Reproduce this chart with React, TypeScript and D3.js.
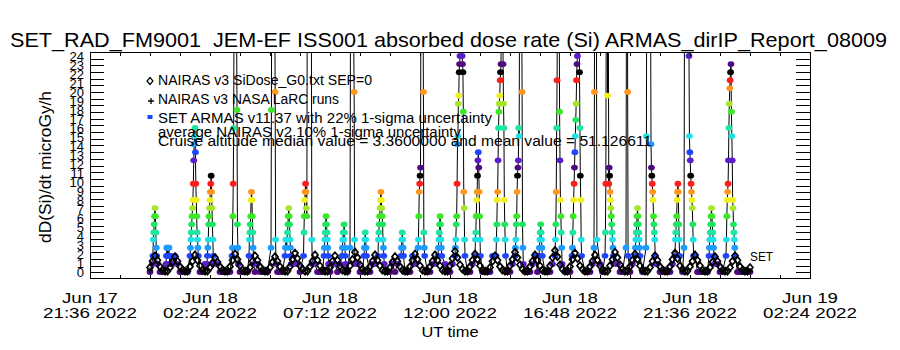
import React, { useEffect, useRef } from "react";
import * as d3 from "d3";

// chart text
const title =
  "SET_RAD_FM9001  JEM-EF ISS001 absorbed dose rate (Si) ARMAS_dirIP_Report_08009";
const yTitle = "dD(Si)/dt microGy/h";
const xTitle = "UT time";
const legendLabels = [
  "NAIRAS v3 SiDose_G0.txt SEP=0",
  "NAIRAS v3 NASA LaRC runs",
  "SET ARMAS v11.37 with 22% 1-sigma uncertainty",
  "average NAIRAS v2 10% 1-sigma uncertainty",
  "Cruise altitude median value = 3.3600000 and mean value = 51.126611",
];
const setLabel = "SET";

// hours relative to 2022-06-18 00:00 UT
const xTickHours = [-2.4, 2.4, 7.2, 12, 16.8, 21.6, 26.4];
const yTickValues = [
  0, 1, 2, 3, 4, 5, 6, 7, 8, 9, 10, 11, 12, 13, 14, 15, 16, 17, 18, 19, 20, 21,
  22, 23, 24,
];

// NAIRAS v3 SiDose, one value every 6 minutes from 00:00 to 24:00 UT
const nairasStep = 0.1;
const nairasDose = [
  0.5, 1.2, 1.8, 1.3, 0.6, 0.2, 0.1, 0.1,
  0.5, 1.1, 1.7, 1.2, 0.6, 0.2, 0.1, 0.1,
  0.6, 1.2, 1.9, 1.3, 0.7, 0.2, 0.1, 0.1,
  0.5, 1.0, 1.6, 1.1, 0.6, 0.2, 0.1, 0.1,
  0.6, 1.3, 2.0, 1.4, 0.7, 0.2, 0.1, 0.1,
  0.5, 1.2, 1.8, 1.3, 0.6, 0.2, 0.1, 0.1,
  0.5, 1.1, 1.7, 1.2, 0.6, 0.2, 0.1, 0.1,
  0.6, 1.4, 2.1, 1.5, 0.7, 0.3, 0.1, 0.1,
  0.6, 1.2, 1.9, 1.3, 0.7, 0.2, 0.1, 0.1,
  0.5, 1.2, 1.8, 1.3, 0.6, 0.2, 0.1, 0.1,
  0.7, 1.4, 2.2, 1.6, 0.8, 0.3, 0.1, 0.1,
  0.6, 1.2, 1.9, 1.3, 0.7, 0.2, 0.1, 0.1,
  0.5, 1.1, 1.7, 1.2, 0.6, 0.2, 0.1, 0.1,
  0.6, 1.3, 2.0, 1.4, 0.7, 0.2, 0.1, 0.1,
  0.6, 1.2, 1.9, 1.3, 0.7, 0.2, 0.1, 0.1,
  0.7, 1.5, 2.3, 1.6, 0.8, 0.3, 0.1, 0.1,
  0.6, 1.3, 2.0, 1.4, 0.7, 0.2, 0.1, 0.1,
  0.5, 1.2, 1.8, 1.3, 0.6, 0.2, 0.1, 0.1,
  0.7, 1.4, 2.2, 1.6, 0.8, 0.3, 0.1, 0.1,
  0.6, 1.2, 1.9, 1.3, 0.7, 0.2, 0.1, 0.1,
  0.7, 1.6, 2.4, 1.7, 0.8, 0.3, 0.1, 0.1,
  0.6, 1.4, 2.1, 1.5, 0.7, 0.3, 0.1, 0.1,
  0.6, 1.2, 1.9, 1.3, 0.7, 0.2, 0.1, 0.1,
  0.7, 1.4, 2.2, 1.6, 0.8, 0.3, 0.1, 0.1,
  0.6, 1.3, 2.0, 1.4, 0.7, 0.2, 0.1, 0.1,
  0.5, 1.2, 1.8, 1.3, 0.6, 0.2, 0.1, 0.1,
  0.6, 1.4, 2.1, 1.5, 0.7, 0.3, 0.1, 0.1,
  0.6, 1.2, 1.9, 1.3, 0.7, 0.2, 0.1, 0.1,
  0.5, 1.1, 1.7, 1.2, 0.6, 0.2, 0.1, 0.1,
  0.5, 1.2, 1.8, 1.3, 0.6, 0.2, 0.1, 0.1,
  0.5,
];

// NASA LaRC runs (hours, value)
const larcHours = [0, 24];
const larcDose = [0.2, 0.1];

// SET ARMAS quiet background, one value every 6 minutes
const armasBgStep = 0.1;
const armasBackground = [
  0, 0.9, 0.9, 0, 0, 0, 0, 0,
  0, 0.9, 1.8, 0.9, 0, 0, 0, 0,
  0, 0.9, 0.9, 0, 0, 0, 0.9, 0,
  0, 0.9, 0.9, 0.9, 0, 0, 0, 0,
  0, 1.8, 0.9, 0, 0, 0, 0, 0,
  0, 0.9, 0, 0.9, 0, 0, 0, 0,
  0, 0.9, 1.8, 0, 0, 0, 0, 0,
  0, 0.9, 0.9, 0.9, 0, 0, 0, 0,
  0, 1.8, 0.9, 0, 0, 0, 0, 0,
  0, 0.9, 0.9, 0, 0.9, 0, 0, 0,
  0, 1.8, 1.8, 0.9, 0, 0, 0, 0,
  0, 0.9, 0.9, 0, 0, 0, 0, 0,
  0, 0.9, 0, 0.9, 0, 0, 0, 0,
  0, 1.8, 0.9, 0.9, 0, 0, 0, 0,
  0, 0.9, 0.9, 0, 0, 0, 0.9, 0,
  0, 0.9, 1.8, 0.9, 0.9, 0, 0, 0,
  0, 0.9, 0.9, 0, 0, 0, 0, 0,
  0, 1.8, 0.9, 0, 0, 0, 0, 0,
  0, 0.9, 0.9, 0.9, 0, 0, 0, 0,
  0, 0.9, 1.8, 0, 0, 0, 0, 0,
  0, 0.9, 0.9, 0.9, 0, 0, 0, 0,
  0, 1.8, 0.9, 0, 0, 0, 0, 0,
  0, 0.9, 0.9, 0, 0.9, 0, 0, 0,
  0, 0.9, 1.8, 0.9, 0, 0, 0, 0,
  0, 0.9, 0.9, 0, 0, 0, 0, 0,
  0, 1.8, 0.9, 0.9, 0, 0, 0, 0,
  0, 0.9, 0, 0.9, 0, 0, 0, 0,
  0, 0.9, 1.8, 0, 0, 0, 0, 0,
  0, 0.9, 0.9, 0.9, 0, 0, 0, 0,
  0, 1.8, 0.9, 0, 0, 0, 0, 0,
  0,
];

// SET ARMAS passes: start hour, then one value per minute
const armasPassStart = [
  0.1, 0.64, 1.6, 2.28, 3.28, 3.96, 4.84, 5.4, 6.14, 6.96, 7.68, 8.0, 8.56,
  9.12, 10.04, 10.72, 11.52, 12.2, 13.0, 13.84, 14.6, 15.56, 16.2, 16.88,
  17.76, 18.2, 19.04, 19.4, 19.84, 21.0, 21.36, 22.36, 23.04,
];
const armasPassValues = [
  [0.9, 1.8, 3.6, 4.4, 5.3, 6.2, 7.1, 6.2, 4.4, 2.7, 1.8, 0.9],
  [0.9, 1.8, 2.7, 2.7, 1.8, 1.8, 2.7, 2.7, 1.8, 0.9, 1.8, 1.8, 0.9],
  [1.8, 2.7, 3.6, 4.4, 5.3, 6.2, 7.1, 8.0, 9.8, 12.4, 14.2, 15.1, 16.0, 13.3, 9.8, 8.0, 6.2, 4.4, 3.6, 2.7, 1.8],
  [0.9, 1.8, 2.7, 3.6, 5.3, 6.2, 7.1, 8.0, 8.9, 9.8, 10.7, 8.9, 7.1, 5.3, 3.6, 1.8, 0.9],
  [1.8, 2.7, 6.2, 9.8, 16.0, 30, 45, 52, 55, 50, 40, 28, 18, 5.3, 2.7, 0.9],
  [1.8, 3.6, 4.4, 5.3, 6.2, 8.0, 8.9, 8.0, 6.2, 4.4, 2.7, 0.9],
  [2.7, 18, 40, 55, 60, 58, 50, 45, 40, 30, 20, 3.6, 0.9],
  [1.8, 2.7, 3.6, 3.6, 2.7, 3.6, 4.4, 5.3, 6.2, 7.1, 6.2, 5.3, 3.6, 2.7, 1.8, 0.9],
  [1.8, 4.4, 6.2, 8.0, 8.9, 9.8, 8.9, 7.1, 6.2, 30, 55, 60, 58, 55, 50, 45, 40, 35, 30, 25, 3.6, 0.9],
  [1.8, 2.7, 3.6, 4.4, 5.3, 6.2, 5.3, 4.4, 3.6, 2.7, 1.8, 0.9],
  [1.8, 2.7, 3.6, 4.4, 3.6, 5.3, 4.4, 2.7, 1.8, 0.9],
  [2.7, 25, 45, 55, 60, 58, 50, 40, 30, 25, 20, 3.6, 0.9],
  [1.8, 2.7, 3.6, 4.4, 3.6, 2.7, 1.8],
  [1.8, 3.6, 4.4, 5.3, 6.2, 7.1, 8.0, 8.9, 8.0, 7.1, 6.2, 5.3, 3.6, 2.7, 1.8, 0.9],
  [1.8, 2.7, 3.6, 4.4, 3.6, 2.7, 1.8],
  [2.7, 3.6, 6.2, 8.9, 9.8, 10.7, 11.6, 30, 55, 60, 50, 40, 30, 20, 4.4, 2.7, 1.8],
  [1.8, 2.7, 3.6, 4.4, 5.3, 6.2, 5.3, 3.6, 2.7, 1.8],
  [1.8, 2.7, 3.6, 5.3, 6.2, 9.8, 14.2, 15.1, 18.7, 19.6, 22.2, 23.1, 24.0, 35, 50, 45, 30, 24.0, 23.1, 22.2, 17.8, 8.9, 7.1, 3.6, 1.8],
  [1.8, 3.6, 4.4, 6.2, 8.0, 8.9, 10.7, 12.4, 13.3, 11.6, 8.9, 6.2, 3.6, 1.8],
  [1.8, 3.6, 5.3, 8.0, 8.9, 12.4, 16.0, 17.8, 18.7, 19.6, 21.3, 22.2, 23.1, 40, 55, 50, 35, 23.1, 18.7, 16.0, 8.0, 5.3, 3.6, 1.8],
  [1.8, 2.7, 3.6, 5.3, 6.2, 8.9, 10.7, 11.6, 12.4, 16.0, 15.1, 30, 50, 60, 55, 45, 30, 20, 5.3, 2.7, 0.9],
  [1.8, 2.7, 3.6, 4.4, 5.3, 4.4, 3.6, 2.7, 1.8],
  [1.8, 3.6, 5.3, 8.9, 16.0, 21.3, 35, 55, 60, 50, 30, 17.8, 12.4, 8.0, 6.2, 4.4, 2.7, 0.9],
  [1.8, 2.7, 4.4, 6.2, 8.0, 9.8, 11.6, 13.3, 15.1, 16.9, 18.7, 21.3, 23.1, 24.0, 40, 60, 55, 40, 22.2, 16.0, 10.7, 8.0, 3.6, 1.8],
  [2.7, 20, 45, 60, 55, 40, 25, 3.6],
  [1.8, 4.4, 9.8, 30, 50, 55, 19.6, 45, 30, 9.8, 11.6, 10.7, 8.9, 8.0, 7.1, 6.2, 5.3, 4.4, 3.6, 2.7, 1.8, 0.9],
  [2.7, 30, 55, 40, 20, 1.8],
  [1.8, 2.7, 3.6, 4.4, 5.3, 6.2, 7.1, 6.2, 5.3, 4.4, 3.6, 2.7, 1.8],
  [2.7, 15.1, 40, 60, 58, 55, 50, 48, 45, 40, 35, 30, 14.2, 11.6, 10.7, 9.8, 8.9, 8.0, 6.2, 5.3, 4.4, 3.6, 1.8, 0.9],
  [1.8, 3.6, 4.4, 5.3, 6.2, 8.0, 8.9, 9.8, 8.9, 5.3, 3.6, 1.8],
  [2.7, 25, 50, 60, 58, 55, 52, 50, 45, 40, 35, 30, 24.0, 15.1, 13.3, 12.4, 10.7, 9.8, 8.9, 8.0, 7.1, 5.3, 3.6, 1.8],
  [1.8, 2.7, 3.6, 4.4, 5.3, 6.2, 7.1, 6.2, 5.3, 4.4, 3.6, 2.7, 1.8, 0.9],
  [1.8, 3.6, 6.2, 8.0, 8.9, 9.8, 12.4, 16.0, 18.7, 20.4, 21.3, 22.2, 23.1, 17.8, 15.1, 12.4, 8.0, 7.1, 5.3, 4.4, 3.6, 2.7, 1.8],
];

// IDL-like colour table, repeats every 13 dose steps
const palette = [
  "#4e0a7e", "#5a1ec8", "#1e46ff", "#1e9bff", "#1ee1e6", "#1ee6a0",
  "#1ee65f", "#3ce628", "#a5e628", "#f0f01e", "#ff961e", "#ff1e1e", "#000000",
];
const doseStep = 24 / 27;

const DAY0 = Date.UTC(2022, 5, 18);
const hoursToDate = (h: number) => new Date(DAY0 + h * 3600000);
const FONT = "Liberation Sans, Arial, sans-serif";

interface Pt {
  t: Date;
  v: number;
}

const App: React.FC = () => {
  const svgRef = useRef<SVGSVGElement | null>(null);

  useEffect(() => {
    const svg = d3.select(svgRef.current);
    svg.selectAll("*").remove();

    const x = d3
      .scaleUtc()
      .domain([hoursToDate(-2.4), hoursToDate(26.4)])
      .range([90, 810]);
    const y = d3.scaleLinear().domain([-0.78, 24.44]).range([279, 52]);
    const [yLo, yHi] = y.domain();

    svg
      .append("defs")
      .append("clipPath")
      .attr("id", "plotClip")
      .append("rect")
      .attr("x", 90)
      .attr("y", 52)
      .attr("width", 720)
      .attr("height", 227);

    // ARMAS series: quiet background + passes, in time order
    const passRanges = armasPassStart.map((s, i) => [
      s - 0.05,
      s + (armasPassValues[i].length - 1) / 60 + 0.05,
    ]);
    const bgPts: Pt[] = armasBackground
      .map((v, i) => ({ h: i * armasBgStep, v }))
      .filter((d) => !passRanges.some(([a, b]) => d.h >= a && d.h <= b))
      .map((d) => ({ t: hoursToDate(d.h), v: d.v }));
    const passPts: Pt[] = armasPassStart.flatMap((s, i) =>
      armasPassValues[i].map((v, j) => ({ t: hoursToDate(s + j / 60), v }))
    );
    const armas = [...bgPts, ...passPts].sort(
      (a, b) => a.t.getTime() - b.t.getTime()
    );

    const plot = svg.append("g").attr("clip-path", "url(#plotClip)");

    const line = d3
      .line<Pt>()
      .x((d) => x(d.t))
      .y((d) => y(d.v));

    plot
      .append("path")
      .datum(armas)
      .attr("d", line)
      .attr("fill", "none")
      .attr("stroke", "black")
      .attr("stroke-width", 1);

    plot
      .selectAll("ellipse.armas")
      .data(armas.filter((d) => d.v <= yHi))
      .enter()
      .append("ellipse")
      .attr("class", "armas")
      .attr("cx", (d) => x(d.t))
      .attr("cy", (d) => y(d.v))
      .attr("rx", 3.4)
      .attr("ry", 2.9)
      .attr("fill", (d) => palette[Math.round(d.v / doseStep) % 13]);

    // NAIRAS diamonds
    const diamond = "M0,-3.5L3,0L0,3.5L-3,0Z";
    plot
      .selectAll("path.nairas")
      .data(nairasDose)
      .enter()
      .append("path")
      .attr("class", "nairas")
      .attr(
        "transform",
        (d, i) => `translate(${x(hoursToDate(i * nairasStep))},${y(d)})`
      )
      .attr("d", diamond)
      .attr("fill", "none")
      .attr("stroke", "black")
      .attr("stroke-width", 1.7);

    // LaRC plus signs
    const plus = "M-3,0H3M0,-3V3";
    plot
      .selectAll("path.larc")
      .data(larcHours)
      .enter()
      .append("path")
      .attr("class", "larc")
      .attr(
        "transform",
        (d, i) => `translate(${x(hoursToDate(d))},${y(larcDose[i])})`
      )
      .attr("d", plus)
      .attr("stroke", "black")
      .attr("stroke-width", 1.2);

    // frame and ticks
    const axes = svg
      .append("g")
      .attr("stroke", "black")
      .attr("stroke-width", 1)
      .attr("shape-rendering", "crispEdges");
    axes
      .append("rect")
      .attr("x", 90.5)
      .attr("y", 52.5)
      .attr("width", 720)
      .attr("height", 226)
      .attr("fill", "none");

    const yTicks = d3.range(1, 34).map((i) => yLo + (i * (yHi - yLo)) / 34);
    yTicks.forEach((v) => {
      const yy = Math.round(y(v)) + 0.5;
      axes.append("line").attr("x1", 90).attr("x2", 104).attr("y1", yy).attr("y2", yy);
      axes.append("line").attr("x1", 796).attr("x2", 810).attr("y1", yy).attr("y2", yy);
    });

    const xTicks = d3.range(1, 24).map((i) => hoursToDate(-2.4 + i * 1.2));
    xTicks.forEach((t) => {
      const xx = Math.round(x(t)) + 0.5;
      axes.append("line").attr("x1", xx).attr("x2", xx).attr("y1", 279).attr("y2", 275);
      axes.append("line").attr("x1", xx).attr("x2", xx).attr("y1", 52).attr("y2", 56);
    });

    const text = svg
      .append("g")
      .attr("font-family", FONT)
      .attr("fill", "black");

    text
      .append("text")
      .attr("x", 10)
      .attr("y", 47)
      .attr("font-size", 21)
      .attr("textLength", 877)
      .attr("lengthAdjust", "spacingAndGlyphs")
      .style("white-space", "pre")
      .text(title);

    text
      .append("text")
      .attr("transform", "translate(51,167) rotate(-90)")
      .attr("text-anchor", "middle")
      .attr("font-size", 16)
      .attr("textLength", 152)
      .attr("lengthAdjust", "spacingAndGlyphs")
      .text(yTitle);

    text
      .selectAll("text.ytick")
      .data(yTickValues)
      .enter()
      .append("text")
      .attr("class", "ytick")
      .attr("x", 84)
      .attr("y", (d) => y(d) + 5)
      .attr("text-anchor", "end")
      .attr("font-size", 13)
      .text((d) => String(d));

    const fmtDay = d3.utcFormat("%b %d");
    const fmtTime = d3.utcFormat("%H:%M %Y");
    xTickHours.forEach((h) => {
      const t = hoursToDate(h);
      text
        .append("text")
        .attr("x", x(t))
        .attr("y", 303)
        .attr("text-anchor", "middle")
        .attr("font-size", 15)
        .attr("textLength", 56)
        .attr("lengthAdjust", "spacingAndGlyphs")
        .text(fmtDay(t));
      text
        .append("text")
        .attr("x", x(t))
        .attr("y", 318)
        .attr("text-anchor", "middle")
        .attr("font-size", 15)
        .attr("textLength", 94)
        .attr("lengthAdjust", "spacingAndGlyphs")
        .text(fmtTime(t));
    });

    text
      .append("text")
      .attr("x", 450)
      .attr("y", 337)
      .attr("text-anchor", "middle")
      .attr("font-size", 15)
      .attr("textLength", 57)
      .attr("lengthAdjust", "spacingAndGlyphs")
      .text(xTitle);

    // legend
    const legendY = [85, 104, 123, 137, 146];
    const legendW = [214, 181, 334, 303, 494];
    legendLabels.forEach((s, i) => {
      text
        .append("text")
        .attr("x", 158)
        .attr("y", legendY[i])
        .attr("font-size", 14)
        .attr("textLength", legendW[i])
        .attr("lengthAdjust", "spacingAndGlyphs")
        .text(s);
    });
    svg
      .append("path")
      .attr("transform", "translate(150,81)")
      .attr("d", diamond)
      .attr("fill", "none")
      .attr("stroke", "black")
      .attr("stroke-width", 1.2);
    svg
      .append("path")
      .attr("transform", "translate(151,101)")
      .attr("d", plus)
      .attr("stroke", "black")
      .attr("stroke-width", 1.3);
    svg
      .append("rect")
      .attr("x", 147.5)
      .attr("y", 115)
      .attr("width", 5)
      .attr("height", 4)
      .attr("fill", palette[2]);

    text
      .append("text")
      .attr("x", 750)
      .attr("y", 261)
      .attr("font-size", 12.5)
      .attr("textLength", 23)
      .attr("lengthAdjust", "spacingAndGlyphs")
      .text(setLabel);
  }, []);

  return (
    <svg
      ref={svgRef}
      width={900}
      height={350}
      style={{ position: "absolute", left: 0, top: 0, backgroundColor: "#ffffff" }}
    ></svg>
  );
};

export default App;
